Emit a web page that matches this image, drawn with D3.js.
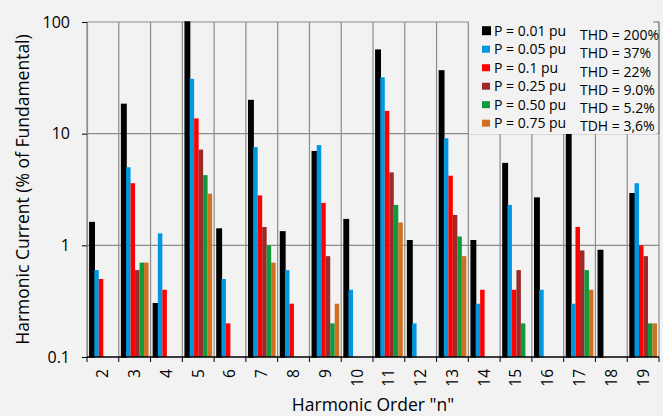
<!DOCTYPE html>
<html>
<head>
<meta charset="utf-8">
<script src="https://cdn.jsdelivr.net/npm/d3@7"></script>
<style>
  body { margin: 0; background: #f2f2f2; }
  svg { display: block; font-family: "Open Sans", sans-serif; }
</style>
</head>
<body>
<script>
// data
const harmonics = [2, 3, 4, 5, 6, 7, 8, 9, 10, 11, 12, 13, 14, 15, 16, 17, 18, 19];

const p001 = [1.6, 18.3, 0.3, 100, 1.4, 19.8, 1.32, 6.9, 1.7, 56, 1.1, 36.5, 1.1, 5.4, 2.65, 10, 0.9, 2.9];
const p005 = [0.6, 5.0, 1.28, 31, 0.5, 7.6, 0.6, 7.9, 0.4, 32, 0.2, 9.1, 0.3, 2.3, 0.4, 0.3, null, 3.6];
const p01  = [0.5, 3.6, 0.4, 13.7, 0.2, 2.8, 0.3, 2.4, null, 16, null, 4.2, 0.4, 0.4, null, 1.46, null, 1.0];
const p025 = [null, 0.6, null, 7.2, null, 1.46, null, 0.8, null, 4.5, null, 1.87, null, 0.6, null, 0.9, null, 0.8];
const p050 = [null, 0.7, null, 4.25, null, 1.0, null, 0.2, null, 2.3, null, 1.2, null, 0.2, null, 0.6, null, 0.2];
const p075 = [null, 0.7, null, 2.9, null, 0.7, null, 0.3, null, 1.6, null, 0.8, null, null, null, 0.4, null, 0.2];

const seriesNames = ["P = 0.01 pu", "P = 0.05 pu", "P = 0.1 pu", "P = 0.25 pu", "P = 0.50 pu", "P = 0.75 pu"];
const thdLabels = ["THD = 200%", "THD = 37%", "THD = 22%", "THD = 9.0%", "THD = 5.2%", "TDH = 3,6%"];
const colors = ["#000000", "#0096e0", "#ff0000", "#9c2a2a", "#0f9a3c", "#d07020"];
const yTicks = [0.1, 1, 10, 100];

const seriesValues = [p001, p005, p01, p025, p050, p075];

// layout
const width = 663, height = 416;
const margin = {left: 87, right: 4, top: 22, bottom: 59};

const svg = d3.select("body").append("svg")
  .attr("width", width)
  .attr("height", height);

const x = d3.scaleBand()
  .domain(harmonics)
  .range([margin.left, width - margin.right])
  .padding(0);

const y = d3.scaleLog()
  .domain([0.1, 100])
  .range([height - margin.bottom, margin.top]);

// inner band for the six bars
const xs = d3.scaleBand()
  .domain(d3.range(seriesNames.length))
  .range([2.8, x.bandwidth() - 2]);

const gridColor = "#8c8c8c";

// **** grid *****************
const grid = svg.append("g");

grid.selectAll(".vline")
  .data(harmonics.map(h => x(h)).concat([x.range()[1]]))
  .join("line")
  .attr("x1", d => d).attr("x2", d => d)
  .attr("y1", y(100)).attr("y2", y(0.1))
  .attr("stroke", gridColor)
  .attr("stroke-width", 1.2);

grid.selectAll(".hline")
  .data([1, 10, 100])
  .join("line")
  .attr("x1", margin.left).attr("x2", x.range()[1])
  .attr("y1", d => y(d)).attr("y2", d => y(d))
  .attr("stroke", gridColor)
  .attr("stroke-width", 1.2);

// **** bars *****************
const bars = [];
seriesValues.forEach((vals, si) => {
  vals.forEach((v, i) => {
    if (v != null) bars.push({s: si, h: harmonics[i], v: v});
  });
});

svg.append("g")
  .selectAll("rect")
  .data(bars)
  .join("rect")
  .attr("x", d => x(d.h) + xs(d.s))
  .attr("width", xs.bandwidth())
  .attr("y", d => y(d.v))
  .attr("height", d => y(0.1) - y(d.v))
  .attr("fill", d => colors[d.s])
  .attr("stroke", d => d.s == 0 ? "#000" : "none")
  .attr("stroke-width", 1.4);

// **** axes *****************
const yAxis = svg.append("g")
  .attr("transform", `translate(${margin.left},0)`)
  .call(d3.axisLeft(y).tickValues(yTicks).tickFormat(d3.format("~g")).tickSize(5).tickPadding(12));
yAxis.select(".domain").attr("stroke", gridColor).attr("stroke-width", 1.2);
yAxis.selectAll(".tick line").attr("stroke", "#000");
yAxis.selectAll("text")
  .attr("font-size", 16)
  .attr("font-family", "Open Sans, sans-serif")
  .attr("fill", "#000");

const xAxisY = y(0.1);
svg.append("line")
  .attr("x1", margin.left).attr("x2", x.range()[1])
  .attr("y1", xAxisY).attr("y2", xAxisY)
  .attr("stroke", "#000").attr("stroke-width", 1.3);

svg.append("g")
  .selectAll("line")
  .data(harmonics.map(h => x(h)).concat([x.range()[1]]))
  .join("line")
  .attr("x1", d => d).attr("x2", d => d)
  .attr("y1", xAxisY).attr("y2", xAxisY + 5)
  .attr("stroke", "#000");

svg.append("g")
  .selectAll("text")
  .data(harmonics)
  .join("text")
  .attr("transform", d => `translate(${x(d) + x.bandwidth() / 2},${xAxisY + 12}) rotate(-90)`)
  .attr("text-anchor", "end")
  .attr("dy", "0.35em")
  .attr("font-size", 15.5)
  .text(d => d);

// axis titles
svg.append("text")
  .attr("transform", `translate(29,${(y(100) + y(0.1)) / 2}) rotate(-90)`)
  .attr("text-anchor", "middle")
  .attr("font-size", 17.5)
  .text("Harmonic Current (% of Fundamental)");

svg.append("text")
  .attr("x", (x.range()[0] + x.range()[1]) / 2)
  .attr("y", 411)
  .attr("text-anchor", "middle")
  .attr("font-size", 17.5)
  .text("Harmonic Order \"n\"");

// **** legend *****************
svg.append("rect")
  .attr("x", 469).attr("y", 16)
  .attr("width", 188).attr("height", 118)
  .attr("fill", "#f2f2f2");

// right plot border shows through
svg.append("line")
  .attr("x1", x.range()[1]).attr("x2", x.range()[1])
  .attr("y1", y(100)).attr("y2", 134)
  .attr("stroke", gridColor).attr("stroke-width", 1.2);
svg.append("line")
  .attr("x1", 653).attr("x2", x.range()[1])
  .attr("y1", y(100)).attr("y2", y(100))
  .attr("stroke", gridColor).attr("stroke-width", 1.2);

const leg = svg.append("g")
  .selectAll("g")
  .data(seriesNames)
  .join("g")
  .attr("transform", (d, i) => `translate(482,${30.7 + i * 18.5})`);

leg.append("rect")
  .attr("x", d => 0)
  .attr("y", (d, i) => i == 0 ? -4.5 : -3.5)
  .attr("width", (d, i) => i == 0 ? 9 : 8)
  .attr("height", (d, i) => i == 0 ? 9 : 7)
  .attr("fill", (d, i) => colors[i]);

leg.append("text")
  .attr("x", 12)
  .attr("dy", "0.35em")
  .attr("font-size", 14)
  .text(d => d);

svg.append("g")
  .selectAll("text")
  .data(thdLabels)
  .join("text")
  .attr("x", 580)
  .attr("y", (d, i) => 35 + i * 18.3)
  .attr("dy", "0.35em")
  .attr("font-size", 14)
  .text(d => d);
</script>
</body>
</html>
